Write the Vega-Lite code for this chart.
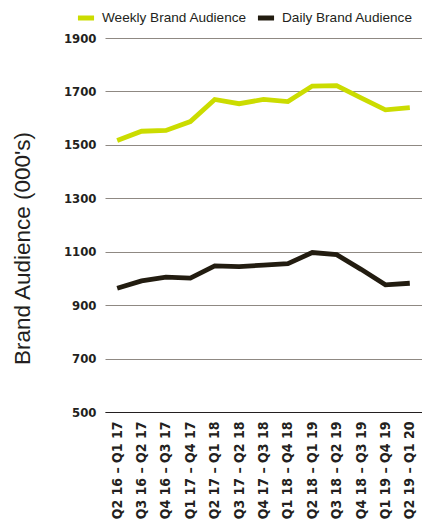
{
  "$schema": "https://vega.github.io/schema/vega-lite/v6.json",
  "width": 317,
  "height": 374,
  "autosize": {"type": "none"},
  "padding": {"left": 105, "top": 38, "right": 0, "bottom": 110},
  "background": "white",
  "config": {
    "view": {"stroke": null},
    "font": "Liberation Sans"
  },
  "data": {
    "values": [
      {"period": "Q2 16 – Q1 17", "series": "Weekly Brand Audience", "audience": 1516},
      {"period": "Q3 16 – Q2 17", "series": "Weekly Brand Audience", "audience": 1551},
      {"period": "Q4 16 – Q3 17", "series": "Weekly Brand Audience", "audience": 1554},
      {"period": "Q1 17 – Q4 17", "series": "Weekly Brand Audience", "audience": 1587},
      {"period": "Q2 17 – Q1 18", "series": "Weekly Brand Audience", "audience": 1670},
      {"period": "Q3 17 – Q2 18", "series": "Weekly Brand Audience", "audience": 1654},
      {"period": "Q4 17 – Q3 18", "series": "Weekly Brand Audience", "audience": 1670},
      {"period": "Q1 18 – Q4 18", "series": "Weekly Brand Audience", "audience": 1662},
      {"period": "Q2 18 – Q1 19", "series": "Weekly Brand Audience", "audience": 1720},
      {"period": "Q3 18 – Q2 19", "series": "Weekly Brand Audience", "audience": 1722},
      {"period": "Q4 18 – Q3 19", "series": "Weekly Brand Audience", "audience": 1676},
      {"period": "Q1 19 – Q4 19", "series": "Weekly Brand Audience", "audience": 1631},
      {"period": "Q2 19 – Q1 20", "series": "Weekly Brand Audience", "audience": 1639},
      {"period": "Q2 16 – Q1 17", "series": "Daily Brand Audience", "audience": 963},
      {"period": "Q3 16 – Q2 17", "series": "Daily Brand Audience", "audience": 991},
      {"period": "Q4 16 – Q3 17", "series": "Daily Brand Audience", "audience": 1005},
      {"period": "Q1 17 – Q4 17", "series": "Daily Brand Audience", "audience": 1001},
      {"period": "Q2 17 – Q1 18", "series": "Daily Brand Audience", "audience": 1047},
      {"period": "Q3 17 – Q2 18", "series": "Daily Brand Audience", "audience": 1044},
      {"period": "Q4 17 – Q3 18", "series": "Daily Brand Audience", "audience": 1050},
      {"period": "Q1 18 – Q4 18", "series": "Daily Brand Audience", "audience": 1055},
      {"period": "Q2 18 – Q1 19", "series": "Daily Brand Audience", "audience": 1097},
      {"period": "Q3 18 – Q2 19", "series": "Daily Brand Audience", "audience": 1089},
      {"period": "Q4 18 – Q3 19", "series": "Daily Brand Audience", "audience": 1034},
      {"period": "Q1 19 – Q4 19", "series": "Daily Brand Audience", "audience": 976},
      {"period": "Q2 19 – Q1 20", "series": "Daily Brand Audience", "audience": 982}
    ]
  },
  "mark": {"type": "line", "strokeWidth": 4.8, "strokeJoin": "miter", "strokeCap": "butt"},
  "encoding": {
    "x": {
      "field": "period",
      "type": "ordinal",
      "sort": null,
      "scale": {"type": "point", "padding": 0.5},
      "axis": {
        "title": null,
        "labelAngle": -90,
        "labelFont": "DejaVu Sans Condensed",
        "labelFontWeight": "bold",
        "labelFontSize": 14,
        "labelColor": "#231f20",
        "labelPadding": 9,
        "labelOverlap": false,
        "ticks": false,
        "domain": true,
        "domainColor": "#231f20",
        "domainWidth": 1.2,
        "grid": false
      }
    },
    "y": {
      "field": "audience",
      "type": "quantitative",
      "scale": {"domain": [500, 1900], "nice": false, "zero": false},
      "axis": {
        "values": [500, 700, 900, 1100, 1300, 1500, 1700, 1900],
        "format": "d",
        "title": "Brand Audience (000's)",
        "titleFont": "Liberation Sans",
        "titleFontWeight": "normal",
        "titleFontSize": 22.5,
        "titleColor": "#231f20",
        "titleAngle": -90,
        "titleAlign": "center",
        "titleBaseline": "middle",
        "titleX": -83,
        "titleY": 210,
        "labelFont": "DejaVu Sans Condensed",
        "labelFontWeight": "bold",
        "labelFontSize": 13,
        "labelColor": "#231f20",
        "labelPadding": 9,
        "ticks": false,
        "domain": false,
        "grid": true,
        "gridColor": "#8f8983",
        "gridWidth": 1
      }
    },
    "color": {
      "field": "series",
      "type": "nominal",
      "scale": {
        "domain": ["Weekly Brand Audience", "Daily Brand Audience"],
        "range": ["#cbdc00", "#221c10"]
      },
      "legend": {
        "title": null,
        "orient": "none",
        "direction": "horizontal",
        "legendX": -30,
        "legendY": -31,
        "symbolType": "stroke",
        "symbolStrokeWidth": 5,
        "symbolSize": 260,
        "labelFont": "Liberation Sans",
        "labelFontSize": 13.6,
        "labelColor": "#231f20",
        "labelOffset": 5,
        "columnPadding": 0
      }
    }
  }
}
